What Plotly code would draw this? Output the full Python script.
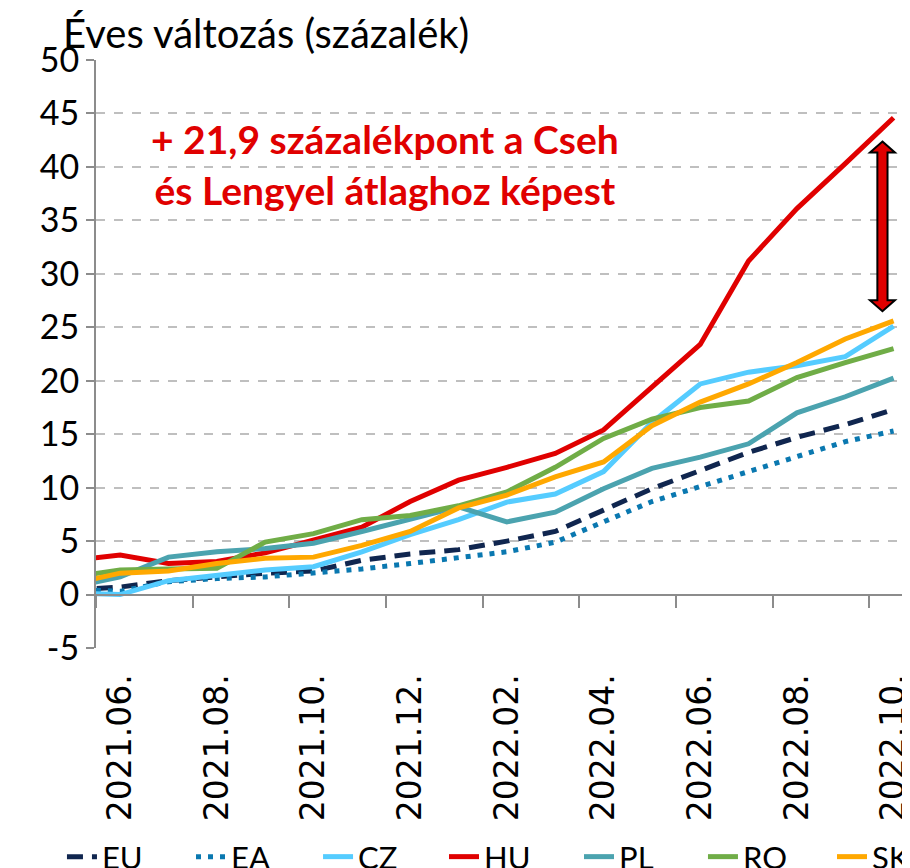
import plotly.graph_objects as go

# ---------------- data ----------------
months = ["2021.05.", "2021.06.", "2021.07.", "2021.08.", "2021.09.", "2021.10.",
          "2021.11.", "2021.12.", "2022.01.", "2022.02.", "2022.03.", "2022.04.",
          "2022.05.", "2022.06.", "2022.07.", "2022.08.", "2022.09.", "2022.10."]

EU = [0.4, 0.7, 1.3, 1.7, 2.0, 2.2, 3.2, 3.8, 4.2, 5.0, 5.9, 7.9, 9.9, 11.6, 13.3, 14.7, 15.9, 17.3]
EA = [0.5, 0.3, 1.2, 1.5, 1.65, 2.0, 2.4, 2.9, 3.4, 4.0, 4.9, 6.8, 8.7, 10.1, 11.5, 12.9, 14.3, 15.3]
CZ = [0.15, 0.0, 1.3, 1.8, 2.3, 2.6, 4.0, 5.6, 7.0, 8.65, 9.4, 11.5, 16.1, 19.7, 20.8, 21.4, 22.25, 25.1]
HU = [3.2, 3.7, 2.9, 3.1, 3.9, 5.1, 6.3, 8.7, 10.7, 11.9, 13.2, 15.4, 19.4, 23.4, 31.2, 36.1, 40.3, 44.6]
PL = [0.7, 1.65, 3.5, 4.0, 4.3, 4.8, 5.9, 7.1, 8.2, 6.8, 7.7, 9.9, 11.8, 12.85, 14.1, 17.0, 18.5, 20.25]
RO = [1.65, 2.3, 2.4, 2.45, 4.9, 5.7, 7.0, 7.4, 8.3, 9.6, 11.9, 14.6, 16.4, 17.5, 18.1, 20.3, 21.7, 23.0]
SK = [1.0, 2.0, 2.2, 2.9, 3.4, 3.5, 4.6, 5.9, 8.1, 9.3, 11.0, 12.4, 15.8, 18.0, 19.7, 21.7, 23.9, 25.6]

y_ticks = [-5, 0, 5, 10, 15, 20, 25, 30, 35, 40, 45, 50]

title_text = "Éves változás (százalék)"
note_text = "+ 21,9 százalékpont a Cseh<br>és Lengyel átlaghoz képest"

# ---------------- figure ----------------
x_idx = list(range(len(months)))
label_idx = x_idx[1::2]
label_text = months[1::2]
boundary_ticks = [i - 0.5 for i in label_idx]

series = [
    ("EU", EU, "#10264F", "16px,9px"),
    ("EA", EA, "#0A78B0", "5px,7px"),
    ("CZ", CZ, "#55CCFF", "solid"),
    ("HU", HU, "#E00000", "solid"),
    ("PL", PL, "#4BA3AF", "solid"),
    ("RO", RO, "#70AD47", "solid"),
    ("SK", SK, "#FFA800", "solid"),
]
# legend entry x positions (container fraction), one legend box per series
legend_x = [0.0593, 0.2011, 0.3407, 0.4791, 0.6275, 0.7637, 0.9055]

fig = go.Figure()
legend_layout = {}
for i, (name, vals, col, dash) in enumerate(series):
    key = "legend" if i == 0 else f"legend{i + 1}"
    fig.add_trace(go.Scatter(
        x=x_idx, y=vals, name=name, mode="lines",
        line=dict(color=col, width=5, dash=dash),
        xaxis="x", yaxis="y", legend=key,
    ))
    legend_layout[key] = dict(
        orientation="h", xref="container", yref="container",
        x=legend_x[i], xanchor="left", y=0.0219, yanchor="middle",
        font=dict(family="Lato", size=31, color="black"),
        bgcolor="rgba(0,0,0,0)",
    )

# invisible helper trace so the label axis (bottom) is rendered
fig.add_trace(go.Scatter(
    x=x_idx, y=HU, mode="lines", line=dict(width=0), opacity=0,
    xaxis="x2", yaxis="y", showlegend=False, hoverinfo="skip",
))

x_range = [0.5, 17.34]
axis_gray = "#8C8C8C"

fig.update_layout(
    width=910, height=868,
    margin=dict(l=88, r=8, t=52, b=227.5, autoexpand=False),
    paper_bgcolor="white", plot_bgcolor="white",
    showlegend=True,
    xaxis=dict(
        range=x_range, anchor="free", position=5 / 55,
        showline=True, linecolor=axis_gray, linewidth=2,
        tickmode="array", tickvals=boundary_ticks,
        ticks="outside", ticklen=12, tickwidth=2, tickcolor=axis_gray,
        showticklabels=False, showgrid=False, zeroline=False, automargin=False,
    ),
    xaxis2=dict(
        range=x_range, overlaying="x", anchor="y", side="bottom",
        tickmode="array", tickvals=label_idx, ticktext=label_text,
        tickangle=-90, tickfont=dict(family="DejaVu Sans", size=33, color="black"),
        ticks="outside", ticklen=12, tickcolor="rgba(0,0,0,0)",
        showline=False, showgrid=False, zeroline=False, automargin=False,
    ),
    yaxis=dict(
        range=[-5, 50], tickmode="array", tickvals=y_ticks,
        ticktext=[str(v) for v in y_ticks],
        tickfont=dict(family="Lato", size=34, color="black"),
        showgrid=True, gridcolor="#BFBFBF", griddash="dash", gridwidth=1.5,
        showline=True, linecolor=axis_gray, linewidth=2,
        ticks="outside", ticklen=8, tickwidth=2, tickcolor=axis_gray,
        zeroline=False, automargin=False,
    ),
    **legend_layout,
)

# title
fig.add_annotation(
    text=title_text, xref="paper", yref="paper",
    x=-0.043, y=1.0459, xanchor="left", yanchor="middle", showarrow=False,
    font=dict(family="Lato", size=40, color="black"),
)

# red note
fig.add_annotation(
    text=note_text, xref="paper", yref="paper",
    x=0.355, y=0.8216, xanchor="center", yanchor="middle", showarrow=False,
    align="center",
    font=dict(family="Lato", size=39, color="#E00000", weight="bold"),
)

# double arrow (decoration)
cx, top, bot = 16.77, 42.38, 26.5
hw, sw, hh = 0.2585, 0.105, 1.03
pts = [(cx, top), (cx + hw, top - hh), (cx + sw, top - hh), (cx + sw, bot + hh),
       (cx + hw, bot + hh), (cx, bot), (cx - hw, bot + hh), (cx - sw, bot + hh),
       (cx - sw, top - hh), (cx - hw, top - hh)]
path = "M " + " L ".join(f"{px},{py}" for px, py in pts) + " Z"
fig.add_shape(type="path", path=path, xref="x", yref="y",
              fillcolor="#E00000", line=dict(color="black", width=2))

fig.write_html("out.html")
